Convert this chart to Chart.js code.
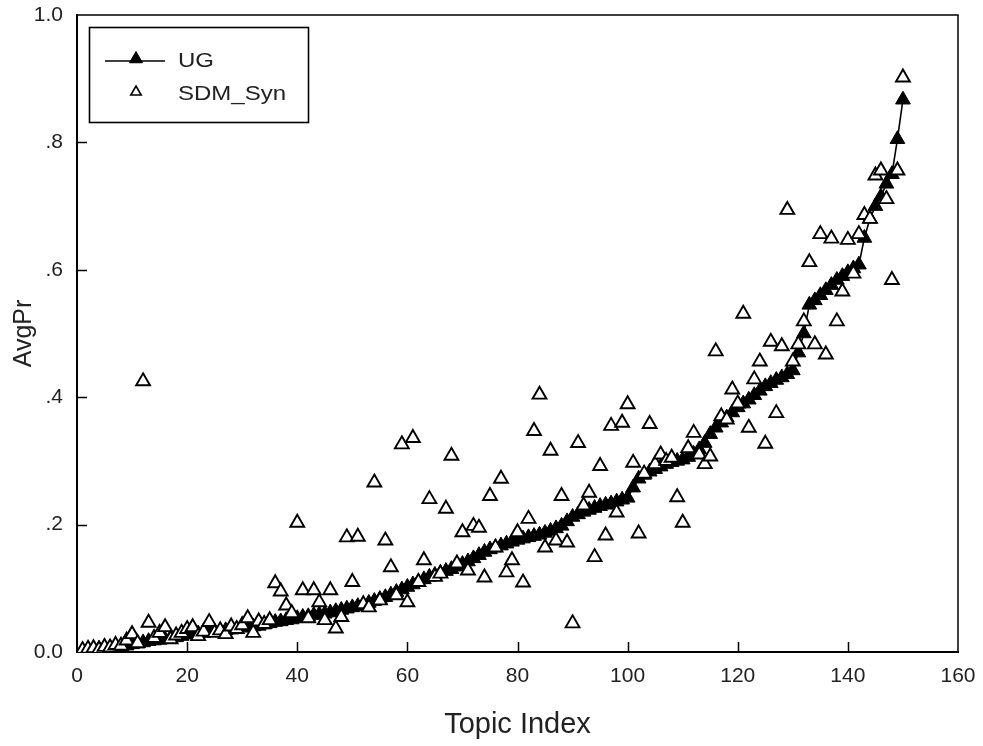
<!DOCTYPE html>
<html>
<head>
<meta charset="utf-8">
<script src="https://cdn.jsdelivr.net/npm/chart.js@4.4.1/dist/chart.umd.min.js"></script>
<style>
html,body{margin:0;padding:0;background:#fff;}
#wrap{width:983px;height:746px;position:relative;}
</style>
</head>
<body>
<div id="wrap"><canvas id="c" width="983" height="746"></canvas></div>
<script>
const topics = [1,2,3,4,5,6,7,8,9,10,11,12,13,14,15,16,17,18,19,20,21,22,23,24,25,26,27,28,29,30,
31,32,33,34,35,36,37,38,39,40,41,42,43,44,45,46,47,48,49,50,51,52,53,54,55,56,57,58,59,60,
61,62,63,64,65,66,67,68,69,70,71,72,73,74,75,76,77,78,79,80,81,82,83,84,85,86,87,88,89,90,
91,92,93,94,95,96,97,98,99,100,101,102,103,104,105,106,107,108,109,110,111,112,113,114,115,116,117,118,119,120,
121,122,123,124,125,126,127,128,129,130,131,132,133,134,135,136,137,138,139,140,141,142,143,144,145,146,147,148,149,150];

const ugValues = [
0.002,0.003,0.004,0.005,0.006,0.007,0.008,0.009,0.010,0.012,
0.013,0.015,0.017,0.018,0.019,0.020,0.022,0.023,0.025,0.027,
0.028,0.029,0.030,0.031,0.032,0.033,0.034,0.035,0.036,0.038,
0.039,0.040,0.041,0.043,0.045,0.047,0.048,0.050,0.051,0.053,
0.055,0.056,0.058,0.059,0.060,0.062,0.064,0.066,0.068,0.070,
0.072,0.074,0.077,0.080,0.083,0.086,0.090,0.094,0.098,0.102,
0.106,0.110,0.114,0.118,0.121,0.124,0.127,0.130,0.134,0.138,
0.142,0.147,0.152,0.157,0.161,0.164,0.167,0.170,0.173,0.176,
0.178,0.180,0.182,0.184,0.187,0.190,0.194,0.198,0.205,0.212,
0.216,0.220,0.223,0.226,0.229,0.231,0.233,0.236,0.239,0.242,
0.258,0.272,0.278,0.283,0.287,0.291,0.295,0.298,0.300,0.302,
0.306,0.311,0.318,0.328,0.342,0.352,0.360,0.368,0.376,0.384,
0.390,0.396,0.403,0.410,0.417,0.422,0.427,0.431,0.436,0.442,
0.470,0.500,0.545,0.552,0.560,0.568,0.576,0.584,0.590,0.596,
0.602,0.608,0.650,0.680,0.700,0.715,0.735,0.750,0.805,0.867];

const sdmValues = [
0.003,0.005,0.006,0.004,0.008,0.007,0.011,0.010,0.018,0.028,
0.014,0.425,0.046,0.022,0.030,0.039,0.020,0.026,0.030,0.036,
0.039,0.025,0.032,0.047,0.030,0.034,0.028,0.040,0.036,0.042,
0.053,0.030,0.048,0.044,0.050,0.108,0.095,0.073,0.061,0.203,
0.097,0.053,0.097,0.078,0.050,0.097,0.037,0.055,0.180,0.110,
0.181,0.075,0.070,0.266,0.081,0.175,0.133,0.089,0.326,0.078,
0.336,0.110,0.144,0.240,0.118,0.123,0.225,0.308,0.139,0.188,
0.128,0.198,0.195,0.117,0.245,0.164,0.272,0.125,0.144,0.188,
0.109,0.209,0.347,0.404,0.164,0.316,0.175,0.245,0.172,0.045,
0.328,0.230,0.250,0.149,0.292,0.183,0.355,0.219,0.360,0.389,
0.297,0.186,0.280,0.358,0.295,0.310,0.300,0.305,0.243,0.203,
0.320,0.344,0.310,0.295,0.307,0.472,0.370,0.365,0.412,0.390,
0.531,0.352,0.428,0.456,0.327,0.487,0.375,0.480,0.694,0.456,
0.483,0.519,0.612,0.483,0.656,0.467,0.649,0.519,0.566,0.647,
0.594,0.656,0.686,0.680,0.748,0.756,0.711,0.584,0.756,0.902];

const xTicks = [0,20,40,60,80,100,120,140,160];
const yTicks = [0,0.2,0.4,0.6,0.8,1.0];
const yTickLabels = ['0.0','.2','.4','.6','.8','1.0'];
const seriesNames = ['UG','SDM_Syn'];

const FONT = '"Liberation Sans", Arial, sans-serif';
const TXT = '#222';

function tri(ctx, x, y, r, fill, lw) {
  ctx.beginPath();
  ctx.moveTo(x, y - r);
  ctx.lineTo(x + r * 0.866, y + r * 0.5);
  ctx.lineTo(x - r * 0.866, y + r * 0.5);
  ctx.closePath();
  ctx.fillStyle = fill ? '#000' : '#fff';
  ctx.fill();
  ctx.strokeStyle = '#000'; ctx.lineWidth = lw; ctx.stroke();
}

const decor = {
  id: 'decor',
  afterDraw(chart) {
    const ctx = chart.ctx;
    const a = chart.chartArea;
    const xs = chart.scales.x, ys = chart.scales.y;
    ctx.save();
    ctx.strokeStyle = '#000';
    ctx.lineWidth = 1.5;
    ctx.beginPath();
    ctx.moveTo(a.left, a.top); ctx.lineTo(a.right, a.top); ctx.lineTo(a.right, a.bottom);
    ctx.stroke();
    ctx.lineWidth = 1.5;
    ctx.beginPath();
    xTicks.forEach(v => {
      if (v <= 0 || v >= 160) return;
      const px = Math.round(xs.getPixelForValue(v)) + 0.5;
      ctx.moveTo(px, a.bottom); ctx.lineTo(px, a.bottom - 10);
    });
    yTicks.forEach(v => {
      if (v <= 0 || v >= 1) return;
      const py = Math.round(ys.getPixelForValue(v)) + 0.5;
      ctx.moveTo(a.left, py); ctx.lineTo(a.left + 10, py);
    });
    ctx.stroke();
    // legend
    const bx = 89, by = 27, bw = 219, bh = 95;
    ctx.lineWidth = 1.6;
    ctx.strokeRect(bx + 0.5, by + 0.5, bw, bh);
    ctx.lineWidth = 1.6;
    ctx.beginPath(); ctx.moveTo(105, 61); ctx.lineTo(165, 61); ctx.stroke();
    tri(ctx, 136, 59, 7.5, true, 1);
    tri(ctx, 136, 92, 6, false, 1.6);
    ctx.fillStyle = TXT;
    ctx.font = '20px ' + FONT;
    ctx.textBaseline = 'alphabetic';
    ctx.textAlign = 'left';
    ctx.save(); ctx.translate(178, 67); ctx.scale(1.2, 1); ctx.fillText(seriesNames[0], 0, 0); ctx.restore();
    ctx.save(); ctx.translate(178, 100); ctx.scale(1.2, 1); ctx.fillText(seriesNames[1], 0, 0); ctx.restore();
    ctx.restore();
  }
};

new Chart(document.getElementById('c'), {
  type: 'scatter',
  data: {
    datasets: [
      {
        label: seriesNames[1],
        data: topics.map((t, i) => ({x: t, y: sdmValues[i]})),
        showLine: false,
        pointStyle: 'triangle',
        pointRadius: 8,
        pointBackgroundColor: '#fff',
        pointBorderColor: '#000',
        pointBorderWidth: 1.9,
        order: 1
      },
      {
        label: seriesNames[0],
        data: topics.map((t, i) => ({x: t, y: ugValues[i]})),
        showLine: true,
        borderColor: '#000',
        borderWidth: 1.6,
        pointStyle: 'triangle',
        pointRadius: 8.5,
        pointBackgroundColor: '#000',
        pointBorderColor: '#000',
        pointBorderWidth: 1,
        order: 2
      }
    ]
  },
  options: {
    responsive: false,
    animation: false,
    layout: { padding: { left: 0, right: 25, top: 15, bottom: 0 } },
    plugins: { legend: { display: false }, tooltip: { enabled: false } },
    scales: {
      x: {
        type: 'linear', min: 0, max: 160,
        afterFit(s) { s.height = 94; s.paddingLeft = 0; s.paddingRight = 0; },
        afterBuildTicks(s) { s.ticks = xTicks.map(v => ({value: v})); },
        grid: { display: false, drawTicks: false },
        border: { display: true, color: '#000', width: 2 },
        ticks: { color: TXT, font: { family: FONT, size: 21 }, padding: 12, maxRotation: 0,
                 callback: v => String(v) },
        title: { display: true, text: 'Topic Index', color: TXT, font: { family: FONT, size: 29 }, padding: { top: 0, bottom: 4 } }
      },
      y: {
        type: 'linear', min: 0, max: 1,
        afterFit(s) { s.width = 77; s.paddingTop = 0; s.paddingBottom = 0; },
        afterBuildTicks(s) { s.ticks = yTicks.map(v => ({value: v})); },
        grid: { display: false, drawTicks: false },
        border: { display: true, color: '#000', width: 2 },
        ticks: { color: TXT, font: { family: FONT, size: 21 }, padding: 14,
                 callback: (v) => { const i = yTicks.findIndex(t => Math.abs(t - v) < 1e-9); return i >= 0 ? yTickLabels[i] : ''; } },
        title: { display: true, text: 'AvgPr', color: TXT, font: { family: FONT, size: 25 }, padding: { top: 9, bottom: 0 } }
      }
    }
  },
  plugins: [decor]
});
</script>
</body>
</html>
